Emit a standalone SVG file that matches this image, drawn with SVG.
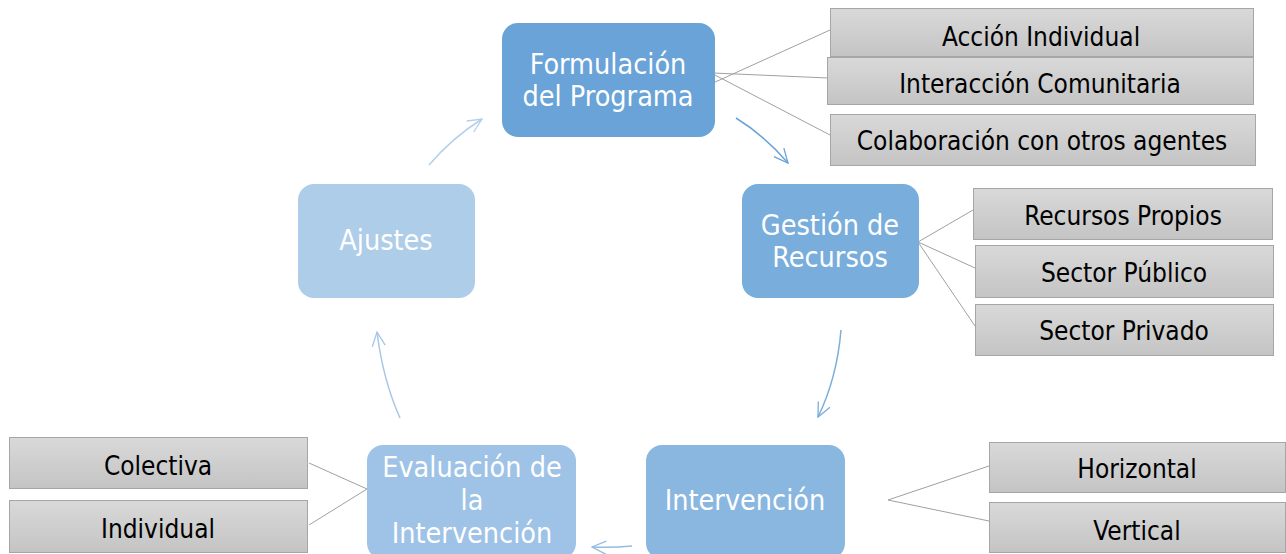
<svg xmlns="http://www.w3.org/2000/svg" width="1286" height="554" viewBox="0 0 1286 554">
<defs>
<linearGradient id="gg" x1="0" y1="0" x2="0" y2="1">
<stop offset="0" stop-color="#d9d9d9"/>
<stop offset="1" stop-color="#c4c4c4"/>
</linearGradient>
<marker id="ah" viewBox="0 0 16 16" refX="15" refY="8" markerWidth="16" markerHeight="16" markerUnits="userSpaceOnUse" orient="auto">
<path d="M1,1.5 L15,8 L1,14.5" fill="none" stroke="context-stroke" stroke-width="1.3"/>
</marker>
<style>
.main{font-family:"DejaVu Sans Condensed","DejaVu Sans",sans-serif;font-stretch:condensed;font-size:28.5px;fill:#ffffff;text-anchor:middle}
.sub{font-family:"DejaVu Sans Condensed","DejaVu Sans",sans-serif;font-stretch:condensed;font-size:26px;fill:#000000;text-anchor:middle}
.gbox{fill:url(#gg);stroke:#a6a6a6;stroke-width:1}
.ln{stroke:#a0a0a0;stroke-width:1;fill:none}
.arr{fill:none;stroke-width:1.5;marker-end:url(#ah)}
</style>
</defs>
<rect width="1286" height="554" fill="#ffffff"/>

<g id="connectors">
<line class="ln" x1="713" y1="83" x2="830" y2="30"/>
<line class="ln" x1="713" y1="73" x2="828" y2="78"/>
<line class="ln" x1="713" y1="74" x2="830" y2="135"/>
<line class="ln" x1="918" y1="242" x2="973" y2="210"/>
<line class="ln" x1="918" y1="242" x2="975" y2="268"/>
<line class="ln" x1="918" y1="242" x2="975" y2="326"/>
<line class="ln" x1="888" y1="500" x2="989" y2="466"/>
<line class="ln" x1="888" y1="500" x2="989" y2="521"/>
<line class="ln" x1="367" y1="489" x2="309" y2="463"/>
<line class="ln" x1="367" y1="489" x2="309" y2="525"/>
<path class="arr" stroke="#6aa3d8" d="M736,118 Q765,136 788,163"/>
<path class="arr" stroke="#7aaedc" d="M841,330 Q837,378 818,417"/>
<path class="arr" stroke="#93bce2" d="M632,546 Q612,548 592,547"/>
<path class="arr" stroke="#a6c7e7" d="M400,418 Q383,380 377,332"/>
<path class="arr" stroke="#b3d0eb" d="M429,165 Q452,138 482,119"/>
</g>

<g id="formulacion">
<rect x="502" y="23" width="213" height="114" rx="16" fill="#69a3d8"/>
<text class="main" x="608" y="74">Formulación</text>
<text class="main" x="608" y="106">del Programa</text>
</g>
<g id="gestion">
<rect x="742" y="184" width="177" height="114" rx="16" fill="#78addc"/>
<text class="main" x="830" y="235">Gestión de</text>
<text class="main" x="830" y="267">Recursos</text>
</g>
<g id="intervencion">
<rect x="646" y="445" width="199" height="114" rx="16" fill="#8ab7e0"/>
<text class="main" x="745" y="510">Intervención</text>
</g>
<g id="evaluacion">
<rect x="367" y="445" width="209" height="114" rx="16" fill="#9fc3e6"/>
<text class="main" x="472" y="477">Evaluación de</text>
<text class="main" x="472" y="510">la</text>
<text class="main" x="472" y="543">Intervención</text>
</g>
<g id="ajustes">
<rect x="298" y="184" width="177" height="114" rx="16" fill="#aecde9"/>
<text class="main" x="386" y="250">Ajustes</text>
</g>

<g id="accion-individual">
<rect class="gbox" x="830.5" y="8.5" width="423" height="48"/>
<text class="sub" x="1041" y="46">Acción Individual</text>
</g>
<g id="interaccion-comunitaria">
<rect class="gbox" x="827.5" y="57.5" width="426" height="47"/>
<text class="sub" x="1040" y="93">Interacción Comunitaria</text>
</g>
<g id="colaboracion">
<rect class="gbox" x="830.5" y="114.5" width="425" height="51"/>
<text class="sub" x="1042" y="150">Colaboración con otros agentes</text>
</g>
<g id="recursos-propios">
<rect class="gbox" x="973.5" y="188.5" width="299" height="51"/>
<text class="sub" x="1123" y="225">Recursos Propios</text>
</g>
<g id="sector-publico">
<rect class="gbox" x="975.5" y="245.5" width="298" height="52"/>
<text class="sub" x="1124" y="282">Sector Público</text>
</g>
<g id="sector-privado">
<rect class="gbox" x="975.5" y="304.5" width="298" height="51"/>
<text class="sub" x="1124" y="340">Sector Privado</text>
</g>
<g id="horizontal">
<rect class="gbox" x="989.5" y="442.5" width="296" height="50"/>
<text class="sub" x="1137" y="478">Horizontal</text>
</g>
<g id="vertical">
<rect class="gbox" x="989.5" y="502.5" width="296" height="50"/>
<text class="sub" x="1137" y="540">Vertical</text>
</g>
<g id="colectiva">
<rect class="gbox" x="9.5" y="437.5" width="298" height="51"/>
<text class="sub" x="158" y="475">Colectiva</text>
</g>
<g id="individual">
<rect class="gbox" x="9.5" y="500.5" width="298" height="52"/>
<text class="sub" x="158" y="538">Individual</text>
</g>
</svg>
